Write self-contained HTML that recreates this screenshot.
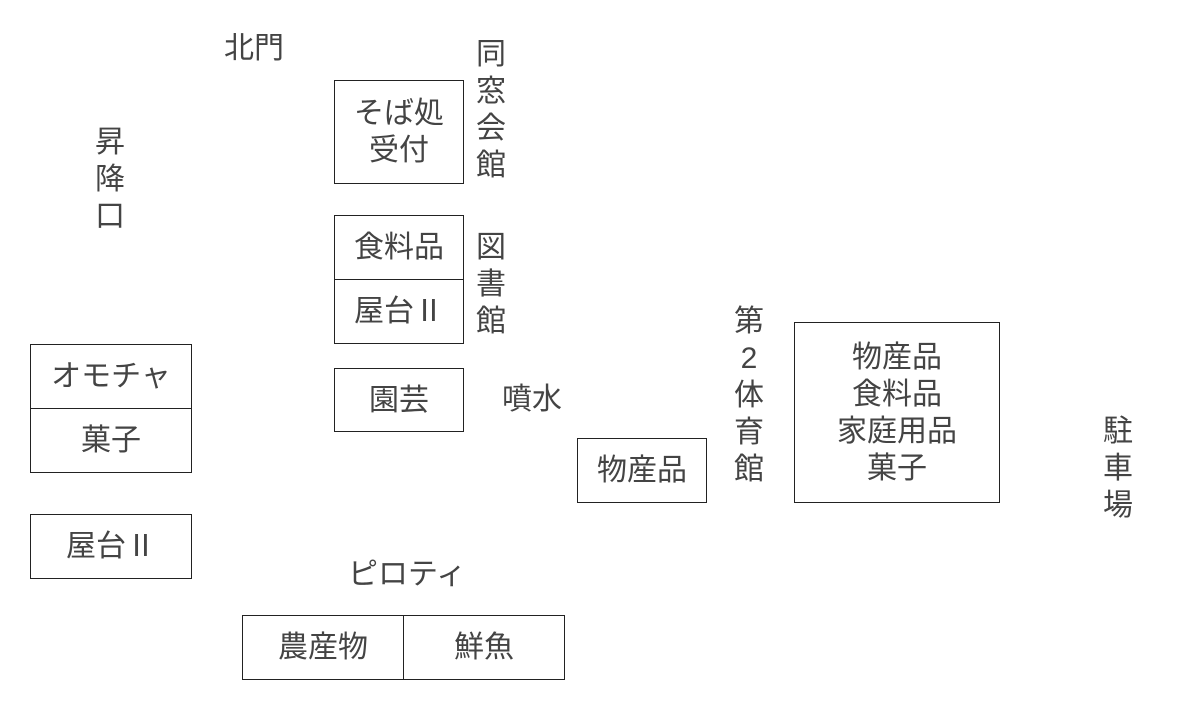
<!DOCTYPE html>
<html><head><meta charset="utf-8"><style>
body{margin:0;width:1200px;height:706px;background:#fff;position:relative;overflow:hidden;font-family:"Liberation Sans","Noto Sans CJK JP",sans-serif;color:#444;}
.b{position:absolute;border:1.5px solid #222;box-sizing:border-box;display:flex;align-items:center;justify-content:center;text-align:center;font-size:30px;line-height:37px;}
.t{position:absolute;font-size:30px;line-height:37px;text-align:center;}
.v{position:absolute;font-size:30px;line-height:37px;width:40px;text-align:center;}
</style></head><body>
<div class="t" style="left:224px;top:30px">北門</div>
<div class="v" style="left:90px;top:124px">昇<br>降<br>口</div>
<div class="v" style="left:471px;top:36px">同<br>窓<br>会<br>館</div>
<div class="v" style="left:471px;top:229px">図<br>書<br>館</div>
<div class="v" style="left:729px;top:303px">第<br>2<br>体<br>育<br>館</div>
<div class="v" style="left:1098px;top:413px">駐<br>車<br>場</div>
<div class="t" style="left:502px;top:381px">噴水</div>
<div class="t" style="left:348px;top:556px">ピロティ</div>

<div class="b" style="left:334px;top:80px;width:130px;height:104px">そば処<br>受付</div>
<div class="b" style="left:334px;top:215px;width:130px;height:65px">食料品</div>
<div class="b" style="left:334px;top:279px;width:130px;height:65px">屋台Ⅱ</div>
<div class="b" style="left:334px;top:368px;width:130px;height:64px">園芸</div>
<div class="b" style="left:30px;top:344px;width:162px;height:65px">オモチャ</div>
<div class="b" style="left:30px;top:408px;width:162px;height:65px">菓子</div>
<div class="b" style="left:30px;top:514px;width:162px;height:65px">屋台Ⅱ</div>
<div class="b" style="left:577px;top:438px;width:130px;height:65px">物産品</div>
<div class="b" style="left:794px;top:322px;width:206px;height:181px">物産品<br>食料品<br>家庭用品<br>菓子</div>
<div class="b" style="left:242px;top:615px;width:162px;height:65px">農産物</div>
<div class="b" style="left:403px;top:615px;width:162px;height:65px">鮮魚</div>
</body></html>
